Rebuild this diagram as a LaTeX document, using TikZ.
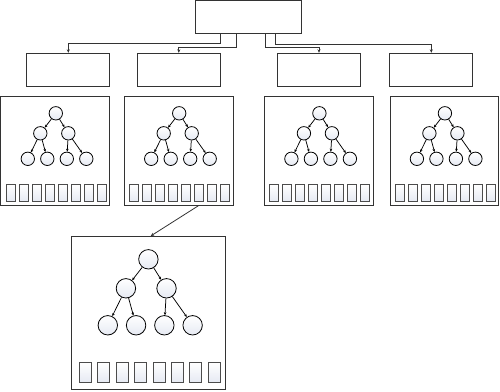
\documentclass[tikz,border=0pt]{standalone}
\usetikzlibrary{arrows.meta}
\definecolor{lc}{HTML}{333333}
\definecolor{shd}{HTML}{E6EAF3}
\tikzset{
  box/.style={draw=lc,line width=1pt,inner sep=0pt,fill=white},
  tnode/.style={circle,draw=black,line width=0.8pt,inner sep=0pt,top color=white,bottom color=shd},
  cell/.style={draw=black!70,line width=1pt,inner sep=0pt,top color=white,bottom color=shd},
  tarrow/.style={draw=black,line width=0.75pt,-{Stealth[length=3pt,width=2.6pt]}},
  conn/.style={draw=lc,line width=1pt,-{Stealth[length=3.5pt,width=3pt]}},
}
\newcommand\mytree[4]{% prefix, root x, root y, scale
  \node[tnode,minimum size=#4*13.4pt] (#1r) at (#2,#3) {};
  \node[tnode,minimum size=#4*13.4pt] (#1a) at ({#2-15.5*#4},{#3+20*#4}) {};
  \node[tnode,minimum size=#4*13.4pt] (#1b) at ({#2+12.5*#4},{#3+20*#4}) {};
  \node[tnode,minimum size=#4*13.4pt] (#1c) at ({#2-28*#4},{#3+45.5*#4}) {};
  \node[tnode,minimum size=#4*13.4pt] (#1d) at ({#2-8.5*#4},{#3+45.5*#4}) {};
  \node[tnode,minimum size=#4*13.4pt] (#1e) at ({#2+11*#4},{#3+45.5*#4}) {};
  \node[tnode,minimum size=#4*13.4pt] (#1f) at ({#2+30.5*#4},{#3+45.5*#4}) {};
  \draw[tarrow] (#1r) -- (#1a);
  \draw[tarrow] (#1r) -- (#1b);
  \draw[tarrow] (#1a) -- (#1c);
  \draw[tarrow] (#1a) -- (#1d);
  \draw[tarrow] (#1b) -- (#1e);
  \draw[tarrow] (#1b) -- (#1f);
}
\newcommand\mycells[6]{% prefix, group centre x, centre y, width, height, pitch
  \foreach \i in {0,...,7}{
    \node[cell,minimum width=#4pt,minimum height=#5pt] (#1\i) at ({#2+(\i-3.5)*#6},#3) {};
  }
}
\begin{document}
\begin{tikzpicture}[x=1pt,y=-1pt]
\useasboundingbox (0,0) rectangle (500,391);
% top
\node[box,minimum width=106pt,minimum height=32.6pt] (top) at (248,17) {};
% level 2
\node[box,minimum width=82.7pt,minimum height=33pt] (m1) at (68.3,69.8) {};
\node[box,minimum width=83pt,minimum height=33pt] (m2) at (178.8,69.8) {};
\node[box,minimum width=82.6pt,minimum height=33pt] (m3) at (319,69.8) {};
\node[box,minimum width=82.7pt,minimum height=33pt] (m4) at (431.3,69.8) {};
% connectors
\draw[conn] ([xshift=26.3pt]top.south west) -- ++(0,9.7) -| (m1.north);
\draw[conn] ([xshift=42pt]top.south west) -- ++(0,14) -| (m2.north);
\draw[conn] ([xshift=71pt]top.south west) -- ++(0,14) -| (m3.north);
\draw[conn] ([xshift=81.3pt]top.south west) -- ++(0,11) -| (m4.north);
% level 3 boxes
\node[box,minimum width=108.7pt,minimum height=108.8pt] (b1) at (55.3,150.9) {};
\node[box,minimum width=108.7pt,minimum height=108.8pt] (b2) at (178.7,150.9) {};
\node[box,minimum width=108.7pt,minimum height=108.8pt] (b3) at (318.9,150.9) {};
\node[box,minimum width=108.7pt,minimum height=108.8pt] (b4) at (444.4,150.9) {};
\mytree{ta}{55.8}{113.3}{1}
\mytree{tb}{179.2}{113.3}{1}
\mytree{tc}{319.4}{113.3}{1}
\mytree{td}{444.9}{113.3}{1}
\mycells{ca}{56.3}{192.5}{9}{17}{13}
\mycells{cb}{179.7}{192.5}{9}{17}{13}
\mycells{cc}{319.9}{192.5}{9}{17}{13}
\mycells{cd}{445.4}{192.5}{9}{17}{13}
% big box
\node[box,minimum width=153.3pt,minimum height=153pt] (big) at (148.4,313) {};
\mytree{te}{148.4}{259.3}{1.45}
\mycells{ce}{149.9}{372}{12}{20}{18.4}
\draw[conn,line width=0.8pt] ([xshift=19.6pt]b2.south) -- ([xshift=2.3pt]big.north);
\end{tikzpicture}
\end{document}
